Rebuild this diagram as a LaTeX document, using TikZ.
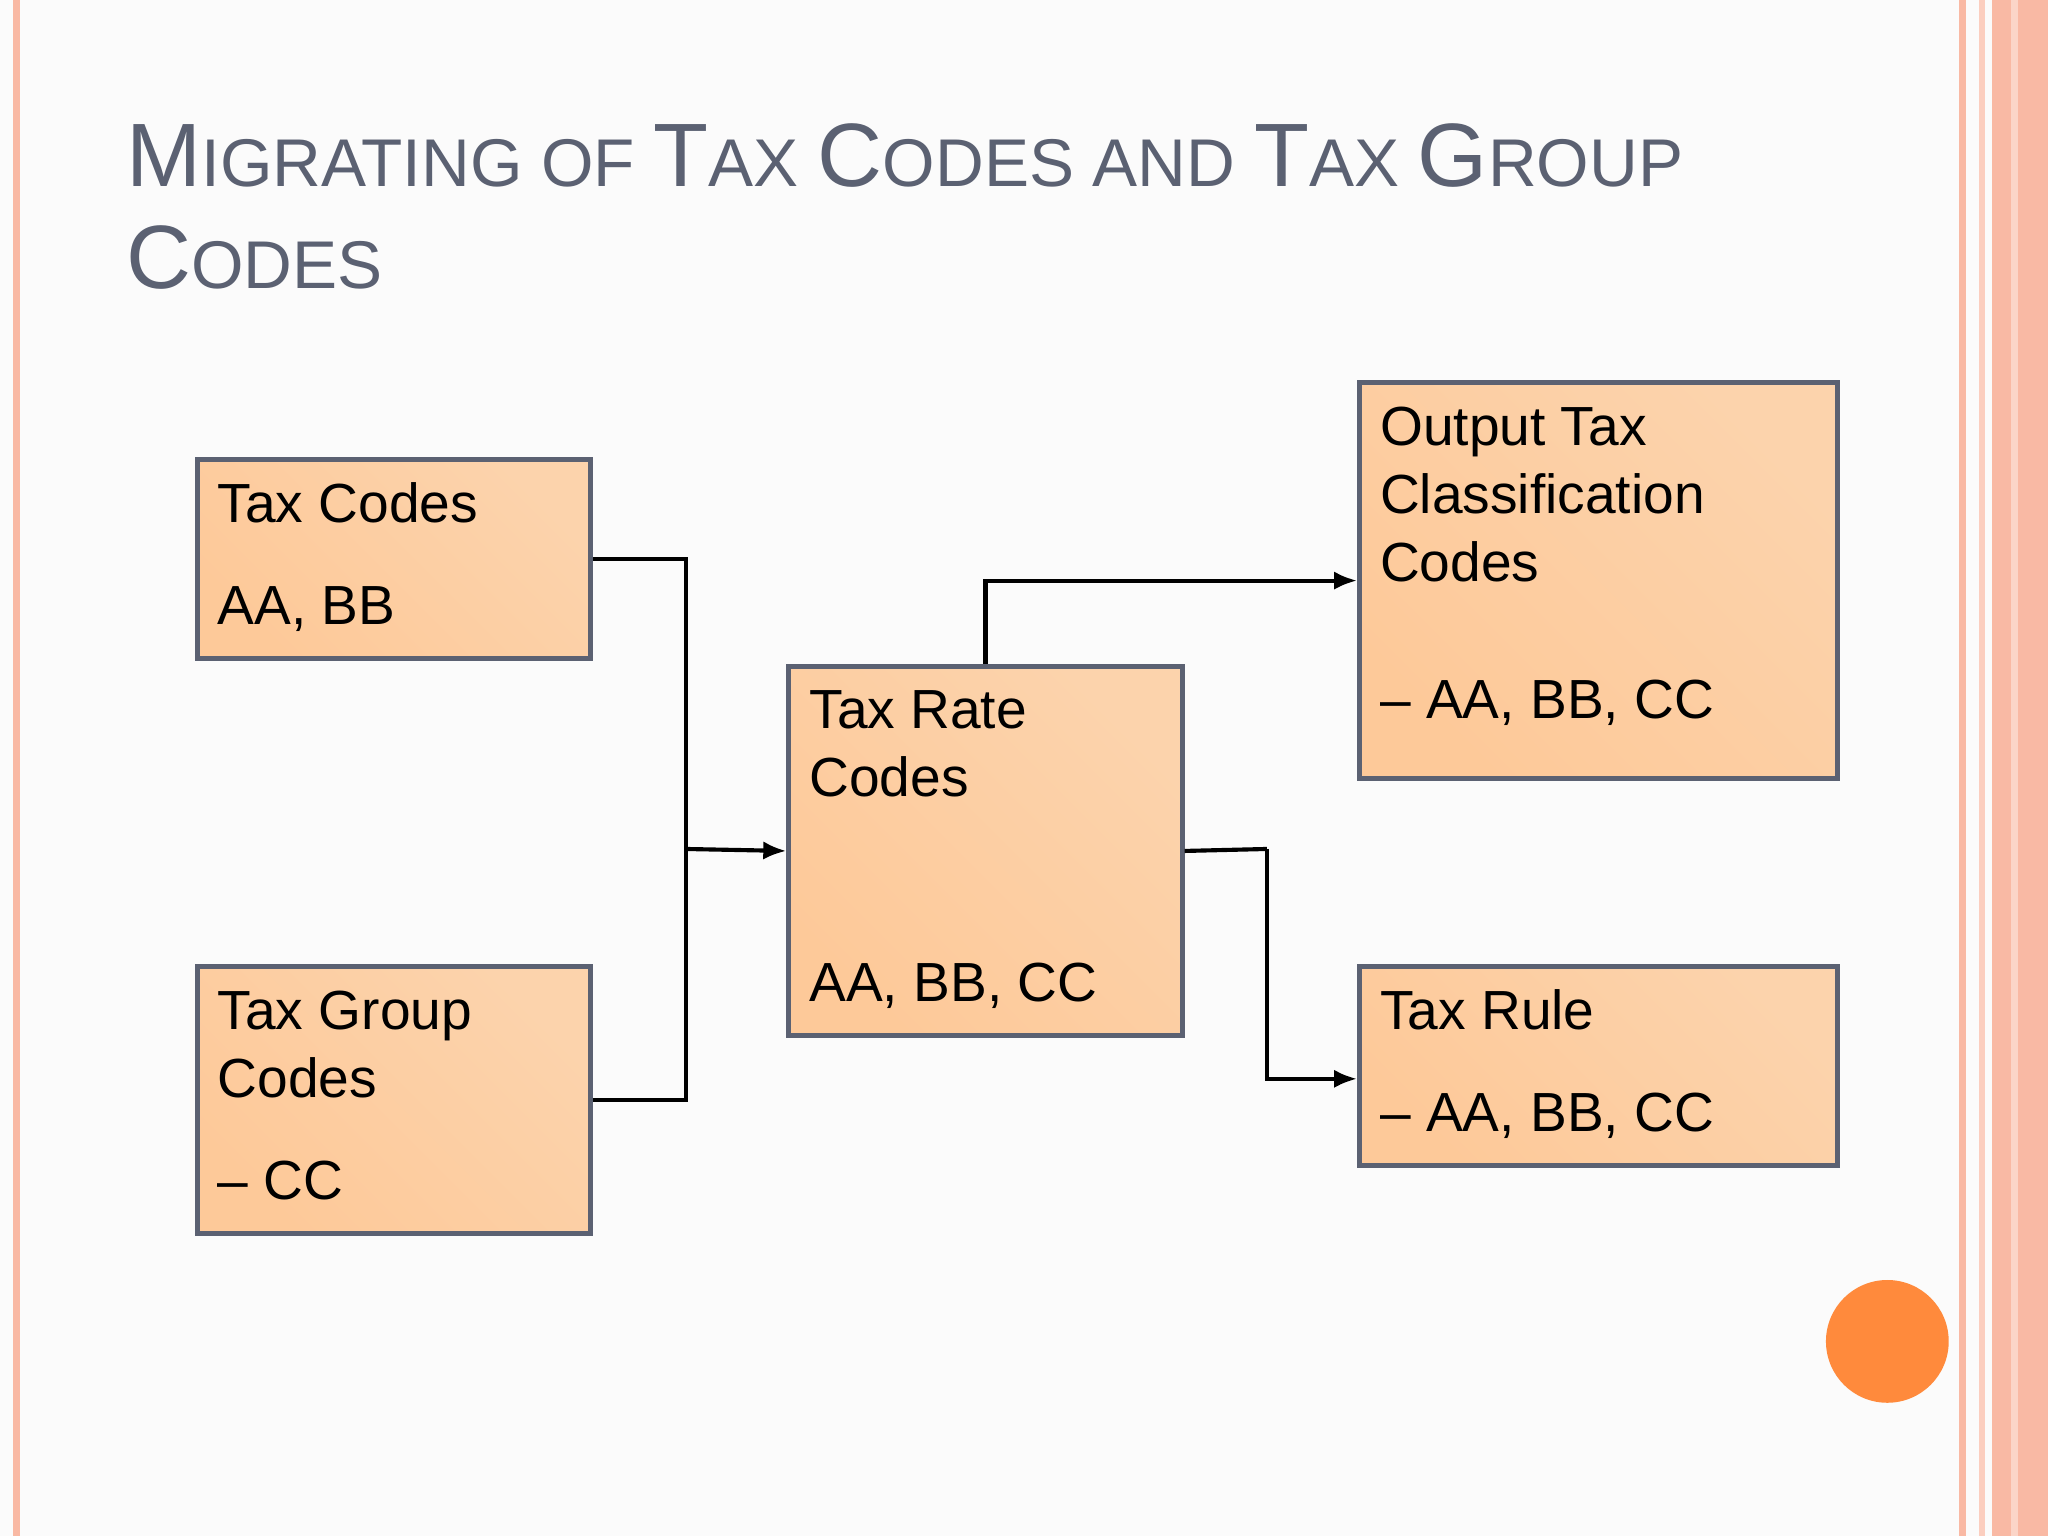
\documentclass[tikz,border=0pt]{standalone}
\usepackage{fontspec}
\setmainfont{Liberation Sans}
\usetikzlibrary{arrows.meta}
\definecolor{bg}{HTML}{FBFBFB}
\definecolor{peach}{HTML}{FDC999}
\definecolor{peachl}{HTML}{FCD3AC}
\definecolor{edge}{HTML}{5B6172}
\definecolor{ttl}{HTML}{5B6172}
\definecolor{pinkb}{HTML}{F9B9A4}
\definecolor{dot}{HTML}{FF8A3C}
\tikzset{
  box/.style={draw=edge,line width=1.1pt,top color=peach,bottom color=peachl,shading angle=135,inner sep=0pt},
  lbl/.style={anchor=base west,inner sep=0pt,font=\fontsize{12}{14}\selectfont},
  con/.style={line width=0.9pt,black},
  arr/.style={con,-{Latex[length=5pt,width=4pt]}}
}
\newcommand{\Tb}{\fontsize{19.6}{24}\selectfont}
\newcommand{\Ts}{\fontsize{14.7}{18}\selectfont}
\begin{document}
\begin{tikzpicture}[x=0.01cm,y=-0.01cm]
\fill[bg] (0,0) rectangle (1568,1176);
\useasboundingbox (0,0) rectangle (1568,1176);
% borders
\fill[pinkb] (10,0) rectangle (15,1176);
\fill[pinkb] (1500,0) rectangle (1505,1176);
\fill[pinkb!70] (1515,0) rectangle (1520,1176);
\fill[pinkb] (1525,0) rectangle (1568,1176);
\fill[pinkb!60] (1540,0) rectangle (1545,1176);
\fill[dot] (1445,1027) circle (47);
% title
\node[anchor=base west,inner sep=0pt,text=ttl] (t1) at (96,143) {\Tb M\Ts IGRATING OF \Tb T\Ts AX \Tb C\Ts ODES AND \Tb T\Ts AX \Tb G\Ts ROUP};
\node[anchor=base west,inner sep=0pt,text=ttl] (t2) at (96,221) {\Tb C\Ts ODES};
% boxes
\node[box,minimum width=3.01cm,minimum height=1.52cm,anchor=north west] (tc) at (149,350) {};
\node[box,minimum width=3.01cm,minimum height=2.04cm,anchor=north west] (tg) at (149,738) {};
\node[box,minimum width=3.01cm,minimum height=2.83cm,anchor=north west] (tr) at (602,508) {};
\node[box,minimum width=3.66cm,minimum height=3.03cm,anchor=north west] (ot) at (1039,291) {};
\node[box,minimum width=3.66cm,minimum height=1.52cm,anchor=north west] (ru) at (1039,738) {};
% texts
\node[lbl] (tc1) at (166,400) {Tax Codes};
\node[lbl] (tc2) at (166,478) {AA, BB};
\node[lbl] (tg1) at (166,788) {Tax Group};
\node[lbl] (tg2) at (166,840) {Codes};
\node[lbl] (tg3) at (166,918) {– CC};
\node[lbl] (tr1) at (619,558) {Tax Rate};
\node[lbl] (tr2) at (619,610) {Codes};
\node[lbl] (tr3) at (619,767) {AA, BB, CC};
\node[lbl] (ot1) at (1056,341) {Output Tax};
\node[lbl] (ot2) at (1056,393) {Classification};
\node[lbl] (ot3) at (1056,445) {Codes};
\node[lbl] (ot4) at (1056,550) {– AA, BB, CC};
\node[lbl] (ru1) at (1056,788) {Tax Rule};
\node[lbl] (ru2) at (1056,866) {– AA, BB, CC};
% connectors
\coordinate (j) at (525,650);
\coordinate (k) at (970,650);
\draw[con] (tc.east) -| (j);
\draw[con] (tg.east) -| (j);
\draw[arr] (j) -- (tr.west);
\draw[arr] (tr.north) |- (ot.west);
\draw[con] (tr.east) -- (k);
\draw[arr] (k) |- ([yshift=-0.1cm]ru.west);
\end{tikzpicture}
\end{document}
